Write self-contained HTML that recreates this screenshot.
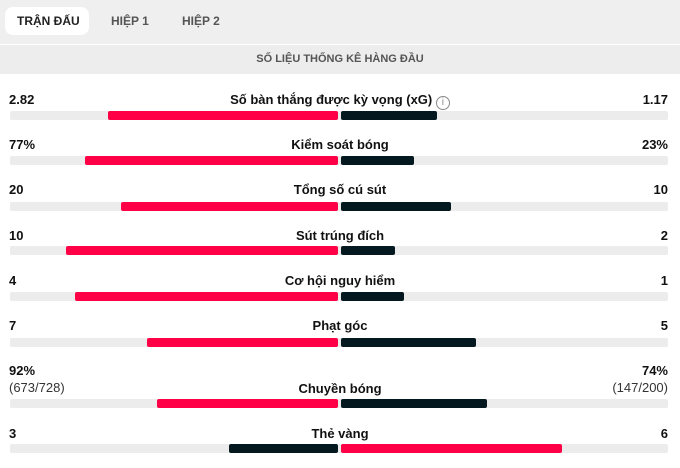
<!DOCTYPE html>
<html><head><meta charset="utf-8"><style>
body{margin:0;width:680px;height:468px;background:#fff;font-family:"Liberation Sans",sans-serif;position:relative;overflow:hidden;color:#111}
.top{position:absolute;left:0;top:0;width:680px;height:44px;background:#efefef}
.tab{position:absolute;top:14px;font-size:12px;font-weight:bold;color:#555}
.pill{position:absolute;left:5px;top:7px;width:84px;height:28px;background:#fff;border-radius:8px}
.hdr{position:absolute;left:0;top:45px;width:680px;height:29px;background:#ededed;text-align:center;line-height:29px;font-size:11px;font-weight:bold;color:#555}
.lab{position:absolute;font-size:13px;font-weight:bold}
.track{position:absolute;left:10px;width:658px;height:9px;background:#ececec;border-radius:2px}
.b{position:absolute;height:9px;border-radius:2px}
.r{background:#ff0046}.d{background:#03191f}
</style></head><body>
<div class="top"></div>
<div class="pill"></div>
<div class="tab" style="left:17px;color:#222">TRẬN ĐẤU</div>
<div class="tab" style="left:111px">HIỆP 1</div>
<div class="tab" style="left:182px">HIỆP 2</div>
<div class="hdr">SỐ LIỆU THỐNG KÊ HÀNG ĐẦU</div>

<div class="lab" style="left:9px;top:92px">2.82</div>
<div class="lab" style="left:0;width:680px;text-align:center;top:92px">Số bàn thắng được kỳ vọng (xG) <span style="display:inline-block;width:12px;height:12px;border:1px solid #888;border-radius:50%;font-size:10px;line-height:12px;color:#888;font-weight:normal;vertical-align:-1px">i</span></div>
<div class="lab" style="right:12px;top:92px">1.17</div>
<div class="track" style="top:111px"></div><div class="b r" style="top:111px;left:108px;width:230px"></div><div class="b d" style="top:111px;left:341px;width:96px"></div>

<div class="lab" style="left:9px;top:137px">77%</div>
<div class="lab" style="left:0;width:680px;text-align:center;top:137px">Kiểm soát bóng</div>
<div class="lab" style="right:12px;top:137px">23%</div>
<div class="track" style="top:156px"></div><div class="b r" style="top:156px;left:85px;width:253px"></div><div class="b d" style="top:156px;left:341px;width:73px"></div>

<div class="lab" style="left:9px;top:182px">20</div>
<div class="lab" style="left:0;width:680px;text-align:center;top:182px">Tổng số cú sút</div>
<div class="lab" style="right:12px;top:182px">10</div>
<div class="track" style="top:202px"></div><div class="b r" style="top:202px;left:121px;width:217px"></div><div class="b d" style="top:202px;left:341px;width:110px"></div>

<div class="lab" style="left:9px;top:228px">10</div>
<div class="lab" style="left:0;width:680px;text-align:center;top:228px">Sút trúng đích</div>
<div class="lab" style="right:12px;top:228px">2</div>
<div class="track" style="top:246px"></div><div class="b r" style="top:246px;left:66px;width:272px"></div><div class="b d" style="top:246px;left:341px;width:54px"></div>

<div class="lab" style="left:9px;top:273px">4</div>
<div class="lab" style="left:0;width:680px;text-align:center;top:273px">Cơ hội nguy hiểm</div>
<div class="lab" style="right:12px;top:273px">1</div>
<div class="track" style="top:292px"></div><div class="b r" style="top:292px;left:75px;width:263px"></div><div class="b d" style="top:292px;left:341px;width:63px"></div>

<div class="lab" style="left:9px;top:318px">7</div>
<div class="lab" style="left:0;width:680px;text-align:center;top:318px">Phạt góc</div>
<div class="lab" style="right:12px;top:318px">5</div>
<div class="track" style="top:338px"></div><div class="b r" style="top:338px;left:147px;width:191px"></div><div class="b d" style="top:338px;left:341px;width:135px"></div>

<div class="lab" style="left:9px;top:363px">92%</div>
<div class="lab" style="left:9px;top:380px;font-weight:normal;color:#333">(673/728)</div>
<div class="lab" style="left:0;width:680px;text-align:center;top:381px">Chuyền bóng</div>
<div class="lab" style="right:12px;top:363px">74%</div>
<div class="lab" style="right:12px;top:380px;font-weight:normal;color:#333">(147/200)</div>
<div class="track" style="top:399px"></div><div class="b r" style="top:399px;left:157px;width:181px"></div><div class="b d" style="top:399px;left:341px;width:146px"></div>

<div class="lab" style="left:9px;top:426px">3</div>
<div class="lab" style="left:0;width:680px;text-align:center;top:426px">Thẻ vàng</div>
<div class="lab" style="right:12px;top:426px">6</div>
<div class="track" style="top:444px"></div><div class="b d" style="top:444px;left:229px;width:109px"></div><div class="b r" style="top:444px;left:341px;width:221px"></div>
</body></html>
